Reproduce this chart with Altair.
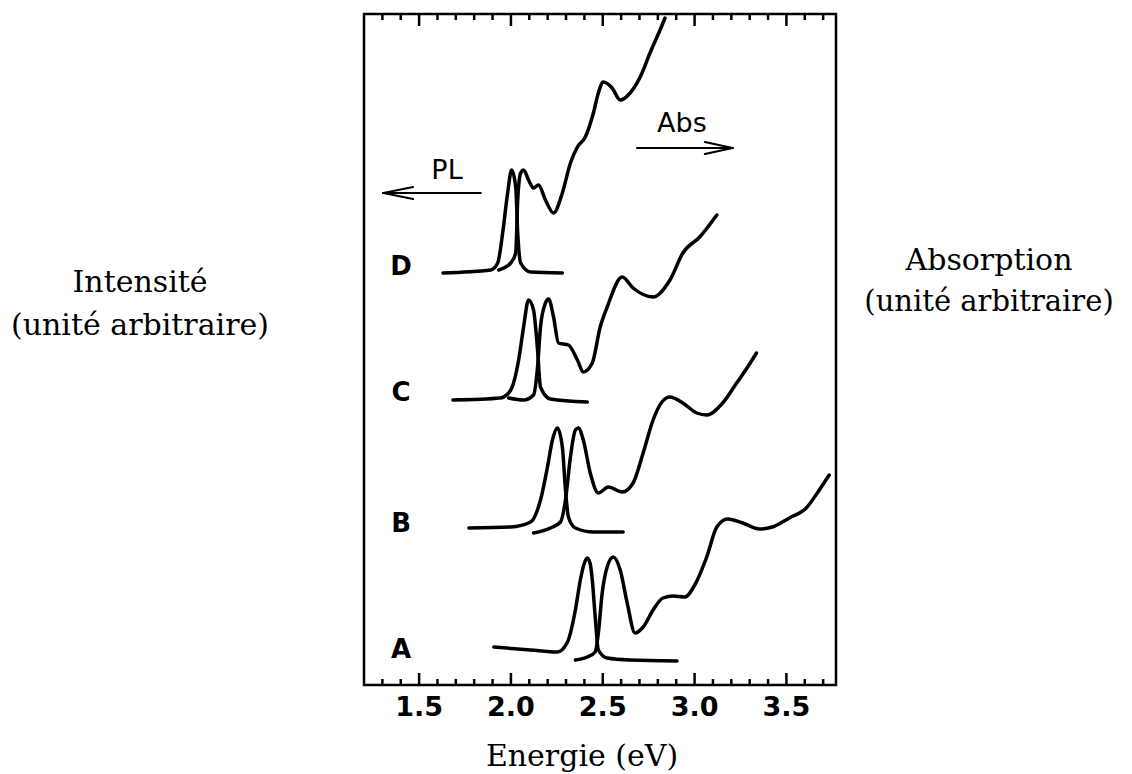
import altair as alt
import pandas as pd

# ---- data: energy (eV) and intensity (arbitrary units) ----
A_pl_E = [1.907, 2.107, 2.253, 2.308, 2.351, 2.378, 2.400, 2.416, 2.432, 2.443, 2.459, 2.476, 2.524, 2.649, 2.904]
A_pl_I = [38, 35, 33, 43, 75, 105, 122, 127, 121, 105, 68, 35, 27, 25, 24]
A_abs_E = [2.351, 2.416, 2.459, 2.476, 2.497, 2.524, 2.557, 2.595, 2.633, 2.676, 2.720, 2.774, 2.828, 2.882,
           2.947, 3.001, 3.066, 3.121, 3.180, 3.262, 3.354, 3.424, 3.516, 3.608, 3.679, 3.733]
A_abs_I = [25, 28, 33, 52, 92, 118, 128, 115, 82, 52, 58, 75, 87, 89,
           88, 100, 128, 158, 166, 162, 156, 158, 167, 177, 195, 210]

B_pl_E = [1.771, 1.999, 2.107, 2.161, 2.199, 2.226, 2.253, 2.280, 2.297, 2.313, 2.351, 2.449, 2.611]
B_pl_I = [157, 158, 163, 185, 218, 245, 257, 238, 195, 168, 157, 153, 153]
B_abs_E = [2.123, 2.215, 2.270, 2.297, 2.324, 2.351, 2.367, 2.394, 2.432, 2.476, 2.530, 2.606, 2.665, 2.720,
           2.774, 2.822, 2.866, 2.936, 3.012, 3.066, 3.153, 3.229, 3.289, 3.337]
B_abs_I = [152, 157, 163, 185, 228, 255, 257, 245, 212, 192, 198, 193, 202, 232,
           265, 283, 288, 282, 272, 270, 282, 302, 318, 332]

C_pl_E = [1.684, 1.944, 1.999, 2.042, 2.069, 2.096, 2.123, 2.145, 2.161, 2.215, 2.416]
C_pl_I = [285, 287, 295, 325, 358, 385, 375, 335, 298, 286, 283]
C_abs_E = [1.988, 2.069, 2.123, 2.145, 2.161, 2.188, 2.205, 2.232, 2.259, 2.313, 2.362, 2.394, 2.443, 2.486,
           2.524, 2.606, 2.665, 2.774, 2.866, 2.936, 3.028, 3.121]
C_abs_I = [287, 285, 290, 318, 358, 382, 386, 368, 342, 340, 325, 313, 322, 358,
           378, 408, 397, 388, 405, 432, 448, 470]

D_pl_E = [1.630, 1.890, 1.928, 1.955, 1.982, 2.004, 2.026, 2.037, 2.053, 2.107, 2.280]
D_pl_I = [412, 415, 422, 452, 492, 515, 498, 452, 422, 413, 412]
D_abs_E = [1.934, 1.999, 2.026, 2.037, 2.053, 2.069, 2.096, 2.123, 2.150, 2.188, 2.232, 2.280, 2.324, 2.362,
           2.405, 2.449, 2.476, 2.503, 2.551, 2.595, 2.649, 2.714, 2.757, 2.812, 2.839]
D_abs_I = [415, 422, 432, 485, 512, 515, 505, 497, 500, 485, 472, 492, 522, 538,
           548, 572, 592, 603, 597, 585, 592, 612, 632, 655, 667]

sample_names = ["D", "C", "B", "A"]
sample_label_E = [1.402, 1.402, 1.402, 1.402]
sample_label_I = [418, 292, 161, 35]

major_ticks = [1.5, 2.0, 2.5, 3.0, 3.5]
major_labels = ["1.5", "2.0", "2.5", "3.0", "3.5"]
minor_ticks = [1.3, 1.4, 1.6, 1.7, 1.8, 1.9, 2.1, 2.2, 2.3, 2.4, 2.6, 2.7, 2.8, 2.9,
               3.1, 3.2, 3.3, 3.4, 3.6, 3.7]

# arrows (annotation): segments in data units
arrow_x = [1.305, 1.305, 1.305, 2.687, 3.207, 3.207]
arrow_x2 = [1.836, 1.467, 1.467, 3.207, 3.056, 3.056]
arrow_y = [492, 492, 492, 537, 537, 537]
arrow_y2 = [492, 498, 486, 537, 543, 531]

arrow_text = ["PL", "Abs"]
arrow_text_E = [1.652, 2.931]
arrow_text_I = [514, 561]

# ---- build tables ----
rows = []
for name, E, I in [("A_pl", A_pl_E, A_pl_I), ("A_abs", A_abs_E, A_abs_I),
                   ("B_pl", B_pl_E, B_pl_I), ("B_abs", B_abs_E, B_abs_I),
                   ("C_pl", C_pl_E, C_pl_I), ("C_abs", C_abs_E, C_abs_I),
                   ("D_pl", D_pl_E, D_pl_I), ("D_abs", D_abs_E, D_abs_I)]:
    for e, i in zip(E, I):
        rows.append({"series": name, "E": e, "I": i})
df = pd.DataFrame(rows)

xs = alt.Scale(domain=[1.2, 3.77], nice=False, zero=False)
ys = alt.Scale(domain=[0, 671], nice=False, zero=False)

lines = alt.Chart(df).mark_line(color="black", strokeWidth=3.5, interpolate="monotone",
                                strokeCap="round", strokeJoin="round").encode(
    x=alt.X("E:Q", scale=xs, axis=None),
    y=alt.Y("I:Q", scale=ys, axis=None),
    detail="series:N",
)

maj = pd.DataFrame({"E": major_ticks, "lab": major_labels})
mnr = pd.DataFrame({"E": minor_ticks})


def tick_layer(d, y, y2):
    return alt.Chart(d).mark_rule(color="black", strokeWidth=2.5).encode(
        x=alt.X("E:Q", scale=xs, axis=None), y=alt.value(y), y2=alt.value(y2))


ticks = (tick_layer(maj, 671, 659) + tick_layer(mnr, 671, 665)
         + tick_layer(maj, 0, 12) + tick_layer(mnr, 0, 6))

tick_labels = alt.Chart(maj).mark_text(font="DejaVu Sans", fontWeight="bold", fontSize=27,
                                       color="black", baseline="middle", align="center").encode(
    x=alt.X("E:Q", scale=xs, axis=None), y=alt.value(694), text="lab:N")

arrow_df = pd.DataFrame({"x": arrow_x, "x2": arrow_x2, "y": arrow_y, "y2": arrow_y2})
arrows = alt.Chart(arrow_df).mark_rule(color="black", strokeWidth=2.2, strokeCap="round").encode(
    x=alt.X("x:Q", scale=xs, axis=None), x2="x2:Q",
    y=alt.Y("y:Q", scale=ys, axis=None), y2="y2:Q")

letters_df = pd.DataFrame({"t": sample_names, "E": sample_label_E, "I": sample_label_I})
letters = alt.Chart(letters_df).mark_text(font="DejaVu Sans", fontWeight="bold", fontSize=26,
                                          color="black", baseline="middle", align="center").encode(
    x=alt.X("E:Q", scale=xs, axis=None), y=alt.Y("I:Q", scale=ys, axis=None), text="t:N")

at_df = pd.DataFrame({"t": arrow_text, "E": arrow_text_E, "I": arrow_text_I})
atext = alt.Chart(at_df).mark_text(font="DejaVu Sans", fontSize=27, color="black",
                                   baseline="middle", align="center").encode(
    x=alt.X("E:Q", scale=xs, axis=None), y=alt.Y("I:Q", scale=ys, axis=None), text="t:N")


def label(txt, px, py, size=30):
    return alt.Chart(pd.DataFrame({"t": [txt]})).mark_text(
        font="DejaVu Serif", fontSize=size, color="black", align="center", baseline="alphabetic").encode(
        text="t:N", x=alt.value(px), y=alt.value(py))


labels = (label("Intensité", -224, 278) + label("(unité arbitraire)", -224, 321)
          + label("Absorption", 625, 256) + label("(unité arbitraire)", 625, 297, 29)
          + label("Energie (eV)", 218, 752))

chart = alt.layer(lines, ticks, tick_labels, arrows, letters, atext, labels).properties(
    width=472, height=671,
    autosize=alt.AutoSizeParams(type="none"),
    padding={"left": 356, "top": 6, "right": 286, "bottom": 88},
    background="white",
).configure_view(stroke="black", strokeWidth=2.5)

chart.save("out.html", embed_options={"renderer": "svg", "actions": False})
